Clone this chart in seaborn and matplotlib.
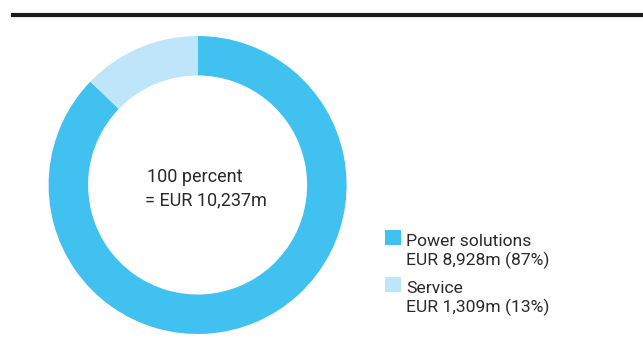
import matplotlib
matplotlib.use("Agg")
import matplotlib.pyplot as plt
from matplotlib.patches import Rectangle
from matplotlib.lines import Line2D
import seaborn as sns

# Revenue split by segment (EUR million)
segments = ["Power solutions", "Service"]
revenue = [8928, 1309]
shares = [87, 13]
total_label = ["100 percent", "= EUR 10,237m"]
colors = ["#40C1F0", "#BEE5FA"]

sns.set_theme(style="white")
plt.rcParams["font.family"] = ["Roboto", "DejaVu Sans"]
text_color = "#2a2a2a"

W, H = 643, 350
fig = plt.figure(figsize=(W / 100, H / 100), dpi=100)


def fx(px):
    return px / W


def fy(py):
    return 1 - py / H


# Donut chart
cx, cy, r = 197.6, 185.0, 149.0
ax = fig.add_axes([fx(cx - r), fy(cy + r), 2 * r / W, 2 * r / H])
ax.pie(revenue, colors=colors, startangle=90, counterclock=False,
       wedgeprops=dict(width=0.265, linewidth=0))
ax.set_xlim(-1, 1)
ax.set_ylim(-1, 1)
ax.set_aspect("equal")
ax.axis("off")

# Total in the centre
fig.text(fx(147), fy(182), total_label[0], ha="left", va="baseline",
         fontsize=13, color=text_color)
fig.text(fx(145), fy(205.5), total_label[1], ha="left", va="baseline",
         fontsize=13, color=text_color)

# Heading rule
fig.add_artist(Line2D([fx(11), 1.0], [fy(15.3), fy(15.3)],
                      transform=fig.transFigure, color="#1b1b1b",
                      linewidth=3.0, solid_capstyle="butt"))

# Legend
box_tops = [230, 277]
first_baselines = [246, 293]
for name, val, pct, col, top, base in zip(segments, revenue, shares, colors,
                                          box_tops, first_baselines):
    fig.add_artist(Rectangle((fx(385), fy(top + 15)), 16 / W, 15 / H,
                             transform=fig.transFigure, facecolor=col,
                             edgecolor="none"))
    fig.text(fx(406), fy(base), name, ha="left", va="baseline",
             fontsize=12.6, color=text_color)
    fig.text(fx(406), fy(base + 19), f"EUR {val:,}m ({pct}%)", ha="left",
             va="baseline", fontsize=12.6, color=text_color)

fig.savefig("out.png", dpi=100)
